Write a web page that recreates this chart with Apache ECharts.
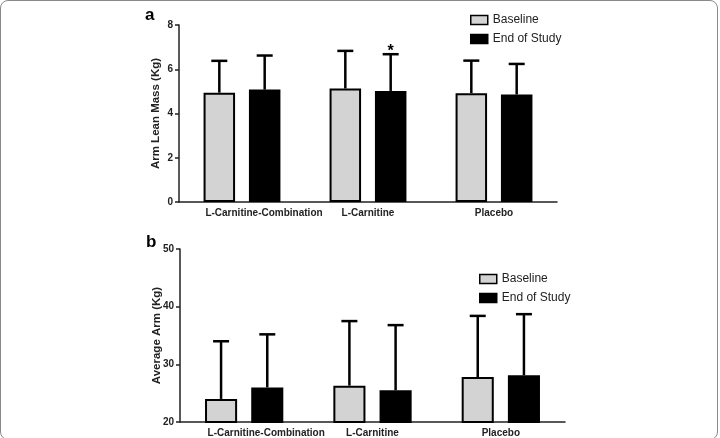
<!DOCTYPE html>
<html>
<head>
<meta charset="utf-8">
<script src="https://cdn.jsdelivr.net/npm/echarts@6/dist/echarts.min.js"></script>
<style>
  html, body { margin: 0; padding: 0; background: #fff; }
  #frame { position: absolute; left: 0; top: 0; width: 718px; height: 440px;
           border: 1.5px solid #8a8a8a; border-radius: 8px; box-sizing: border-box; }
  #chart { position: absolute; left: 0; top: 0; width: 720px; height: 438px; }
</style>
</head>
<body>
<div id="chart"></div>
<div id="frame"></div>
<script>
// values
var groups = ['L-Carnitine-Combination', 'L-Carnitine', 'Placebo'];

var leanBase = [4.94, 5.13, 4.92];
var leanBaseErr = [6.38, 6.83, 6.39];
var leanEnd = [5.08, 5.02, 4.86];
var leanEndErr = [6.62, 6.68, 6.24];
var leanEndStar = [false, true, false];

var armBase = [24.0, 26.3, 27.8];
var armBaseErr = [34.0, 37.5, 38.4];
var armEnd = [26.0, 25.5, 28.1];
var armEndErr = [35.2, 36.8, 38.7];

var barPct = 0.25, gapPct = 0.44;

function errorSeries(name, xi, yi, vals, tops, side, stars) {
    var rows = vals.map(function (v, i) { return [i, v, tops[i], stars && stars[i] ? 1 : 0]; });
    return {
        type: 'custom', name: name, xAxisIndex: xi, yAxisIndex: yi, z: 1,
        data: rows, silent: true,
        renderItem: function (params, api) {
            var band = api.size([1, 0])[0];
            var off = side * band * barPct * (1 + gapPct) / 2;
            var p0 = api.coord([api.value(0), api.value(1)]);
            var p1 = api.coord([api.value(0), api.value(2)]);
            var x = p0[0] + off;
            var st = { stroke: '#000', lineWidth: 2.5 };
            var kids = [
                { type: 'line', shape: { x1: x, y1: p0[1], x2: x, y2: p1[1] }, style: st },
                { type: 'line', shape: { x1: x - 8, y1: p1[1], x2: x + 8, y2: p1[1] }, style: st }
            ];
            if (api.value(3)) {
                kids.push({ type: 'text', x: x, y: p1[1] + 5,
                    style: { text: '*', fill: '#000', font: 'bold 16px "Liberation Sans", Arial',
                             align: 'center', verticalAlign: 'bottom' } });
            }
            return { type: 'group', children: kids };
        }
    };
}

function barSeries(name, xi, yi, vals, color) {
    return {
        type: 'bar', name: name, xAxisIndex: xi, yAxisIndex: yi, z: 2,
        data: vals, barWidth: (barPct * 100) + '%', barGap: (gapPct * 100) + '%',
        itemStyle: { color: color, borderColor: '#000', borderWidth: 2 },
        silent: true
    };
}

var axisFont = { color: '#222', fontSize: 10, fontWeight: 'bold', fontFamily: '"Liberation Sans", Arial' };

// the first (long) label sits a bit right of its tick in the original
var catData = groups.map(function (g, i) {
    return i === 0 ? { value: g, textStyle: { padding: [0, 0, 0, 44] } } : g;
});

function xAxis(gi) {
    return {
        type: 'category', gridIndex: gi, data: catData,
        axisLine: { lineStyle: { color: '#222', width: 1.5 } },
        axisTick: { alignWithLabel: true, length: 4, lineStyle: { color: '#222', width: 1.5 } },
        axisLabel: Object.assign({ margin: 6, interval: 0 }, axisFont)
    };
}
function yAxis(gi, name, min, max, step) {
    return {
        type: 'value', gridIndex: gi, min: min, max: max, interval: step,
        name: name, nameLocation: 'middle', nameGap: 17, nameMoveOverlap: false,
        nameTextStyle: { color: '#222', fontSize: 11.5, fontWeight: 'bold', fontFamily: '"Liberation Sans", Arial' },
        axisLine: { show: true, lineStyle: { color: '#222', width: 1.5 } },
        axisTick: { show: true, length: 4, lineStyle: { color: '#222', width: 1.5 } },
        axisLabel: Object.assign({ margin: 6 }, axisFont),
        splitLine: { show: false }
    };
}

function legend(left, top) {
    return {
        orient: 'vertical', left: left, top: top, itemWidth: 17, itemHeight: 9, itemGap: 7,
        padding: 0, icon: 'rect', selectedMode: false,
        textStyle: { color: '#222', fontSize: 12, fontFamily: '"Liberation Sans", Arial' },
        data: [
            { name: 'Baseline', itemStyle: { color: '#d3d3d3', borderColor: '#000', borderWidth: 1.5 } },
            { name: 'End of Study', itemStyle: { color: '#000', borderColor: '#000', borderWidth: 1.5 } }
        ]
    };
}

var chart = echarts.init(document.getElementById('chart'), null, { renderer: 'canvas' });
chart.setOption({
    animation: false,
    backgroundColor: '#fff',
    grid: [
        { left: 179, top: 25, width: 378, height: 177 },
        { left: 180, top: 249, width: 385, height: 175 }
    ],
    xAxis: [xAxis(0), xAxis(1)],
    yAxis: [yAxis(0, 'Arm Lean Mass (Kg)', 0, 8, 2), yAxis(1, 'Average Arm (Kg)', 20, 50, 10)],
    legend: [legend(470, 14), legend(479, 273)],
    graphic: [
        { type: 'text', left: 145, top: 7, style: { text: 'a', fill: '#000', font: 'bold 17px "Liberation Sans", Arial' } },
        { type: 'text', left: 146, top: 234, style: { text: 'b', fill: '#000', font: 'bold 17px "Liberation Sans", Arial' } }
    ],
    series: [
        barSeries('Baseline', 0, 0, leanBase, '#d3d3d3'),
        barSeries('End of Study', 0, 0, leanEnd, '#000'),
        errorSeries('errA1', 0, 0, leanBase, leanBaseErr, -1),
        errorSeries('errA2', 0, 0, leanEnd, leanEndErr, 1, leanEndStar),
        barSeries('Baseline', 1, 1, armBase, '#d3d3d3'),
        barSeries('End of Study', 1, 1, armEnd, '#000'),
        errorSeries('errB1', 1, 1, armBase, armBaseErr, -1),
        errorSeries('errB2', 1, 1, armEnd, armEndErr, 1)
    ]
});
</script>
</body>
</html>
